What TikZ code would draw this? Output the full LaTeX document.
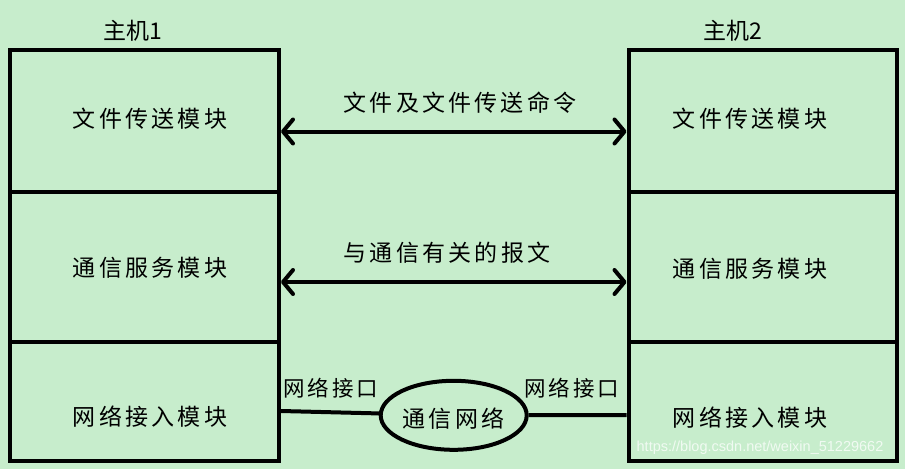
\documentclass[tikz,border=0pt]{standalone}
\usepackage{fontspec}
\newfontfamily\cjk[LetterSpace=14]{Noto Sans CJK SC}
\newfontfamily\cjktight{Noto Sans CJK SC}
\newfontfamily\wmfont{Liberation Sans}
\usetikzlibrary{arrows.meta,shapes.geometric}
\definecolor{bggreen}{RGB}{199,237,204}
\tikzset{
  cell/.style={draw=black,line width=4pt,minimum width=269pt,inner sep=0pt},
  lbl/.style={font=\cjk\fontsize{23}{26}\selectfont,inner sep=0pt},
  hostlbl/.style={font=\cjktight\fontsize{23}{26}\selectfont,inner sep=0pt},
  iflbl/.style={font=\cjk\fontsize{21.5}{24}\selectfont,inner sep=0pt},
  dblarrow/.style={line width=4pt,{Straight Barb[length=10pt,width=24pt,round]}-{Straight Barb[length=10pt,width=24pt,round]}},
  wire/.style={line width=4pt},
}
\begin{document}
\begin{tikzpicture}[x=1pt,y=-1pt]
\fill[bggreen] (0,0) rectangle (905,469);
\useasboundingbox (0,0) rectangle (905,469);
% left host
\node[cell,minimum height=142.5pt] (L1) at (144.5,120.75) {};
\node[cell,minimum height=149.5pt] (L2) at (144.5,266.75) {};
\node[cell,minimum height=119pt] (L3) at (144.5,401) {};
% right host
\node[cell,minimum width=268.5pt,minimum height=142.5pt] (R1) at (762.75,120.75) {};
\node[cell,minimum width=268.5pt,minimum height=149.5pt] (R2) at (762.75,266.75) {};
\node[cell,minimum width=268.5pt,minimum height=119pt] (R3) at (762.75,401) {};
% host titles
\node[hostlbl] (h1) at (133,31) {主机1};
\node[hostlbl] (h2) at (733,31) {主机2};
% cell texts
\node[lbl] (t1) at (150,119) {文件传送模块};
\node[lbl] (t2) at (150,268) {通信服务模块};
\node[lbl] (t3) at (150,417) {网络接入模块};
\node[lbl] (u1) at (750,119) {文件传送模块};
\node[lbl] (u2) at (750,269) {通信服务模块};
\node[lbl] (u3) at (750,418) {网络接入模块};
% arrows
\coordinate (ya) at (450,131.5);
\coordinate (yb) at (450,282);
\draw[dblarrow] (L1.east |- ya) -- (R1.west |- ya);
\draw[dblarrow] (L2.east |- yb) -- (R2.west |- yb);
\node[lbl] (m1) at (460,103) {文件及文件传送命令};
\node[lbl] (m2) at (447,253) {与通信有关的报文};
% network
\node[draw=black,line width=4pt,ellipse,minimum width=146pt,minimum height=69pt,inner sep=0pt] (net) at (453.7,415.3) {};
\node[lbl] (nett) at (453.5,419) {通信网络};
\coordinate (ca) at (0,411);
\coordinate (cb) at (0,415);
\draw[wire] (L3.east |- ca) -- (net);
\draw[wire] (R3.west |- cb) -- (net);
\node[iflbl] (if1) at (331,388) {网络接口};
\node[iflbl] (if2) at (572,388) {网络接口};
% watermark
\node[font=\wmfont\fontsize{14.5}{16}\selectfont,text=white,opacity=0.75,inner sep=0pt] (wm) at (760,448) {https://blog.csdn.net/weixin\_51229662};
\end{tikzpicture}
\end{document}
